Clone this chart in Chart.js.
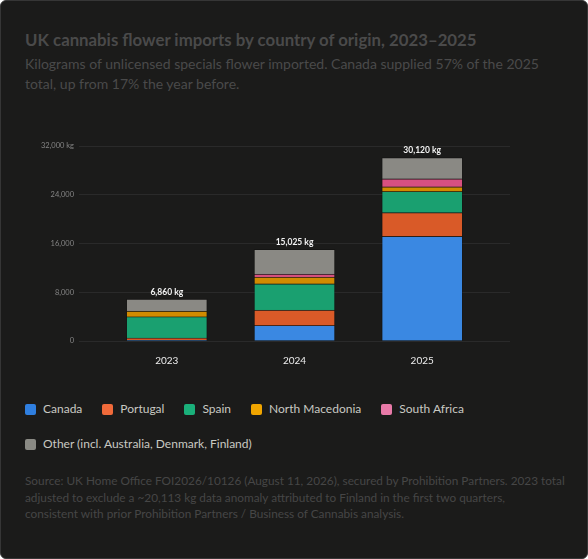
<!DOCTYPE html>
<html>
<head>
    <title>UK cannabis flower imports</title>
    <meta charset="utf-8">
    <script src="https://cdn.jsdelivr.net/npm/chart.js"></script>
    <style>
    html, body {
        margin: 0;
        padding: 0;
        background: #ffffff;
    }
    .card {
        position: relative;
        width: 586px;
        height: 557px;
        background: #1b1b1a;
        border: 1px solid #363636;
        border-radius: 6px;
        font-family: "Segoe UI", Lato, "Noto Sans", sans-serif;
        overflow: hidden;
    }
    .title {
        position: absolute;
        left: 24px;
        top: 28px;
        font-size: 16.8px;
        font-weight: bold;
        color: #4a4a4a;
        white-space: nowrap;
    }
    .subtitle {
        position: absolute;
        left: 24px;
        top: 53px;
        width: 530px;
        font-size: 14px;
        line-height: 20px;
        color: #4a4a4a;
    }
    .chart-box {
        position: absolute;
        left: 24px;
        top: 130px;
        width: 540px;
        height: 235px;
    }
    .legend {
        position: absolute;
        left: 24px;
        top: 399px;
        width: 540px;
        display: flex;
        flex-wrap: wrap;
        row-gap: 17px;
    }
    .legend-item {
        display: flex;
        align-items: center;
        margin-right: 20px;
        font-size: 12px;
        line-height: 18px;
        color: #c9c9c2;
    }
    .legend-box {
        width: 11px;
        height: 11px;
        border-radius: 2px;
        margin-right: 7px;
    }
    .source {
        position: absolute;
        left: 24px;
        top: 472px;
        width: 550px;
        font-size: 11.8px;
        line-height: 16.5px;
        color: #464646;
    }
    </style>
</head>
<body>
    <div class="card">
        <div class="title">UK cannabis flower imports by country of origin, 2023–2025</div>
        <div class="subtitle">Kilograms of unlicensed specials flower imported. Canada supplied 57% of the 2025 total, up from 17% the year before.</div>
        <div class="chart-box">
            <canvas id="importsChart"></canvas>
        </div>
        <div class="legend" id="legend"></div>
        <div class="source">Source: UK Home Office FOI2026/10126 (August 11, 2026), secured by Prohibition Partners. 2023 total adjusted to exclude a ~20,113 kg data anomaly attributed to Finland in the first two quarters,<br>consistent with prior Prohibition Partners / Business of Cannabis analysis.</div>
    </div>

<script>
    // data, kg per year
    const years = ['2023', '2024', '2025'];
    const countries = ['Canada', 'Portugal', 'Spain', 'North Macedonia', 'South Africa', 'Other (incl. Australia, Denmark, Finland)'];
    const canada = [160, 2555, 17170];
    const portugal = [340, 2510, 3900];
    const spain = [3500, 4320, 3480];
    const northMacedonia = [920, 1090, 760];
    const southAfrica = [0, 490, 1300];
    const other = [1940, 4060, 3510];
    const yTicks = [0, 8000, 16000, 24000, 32000];

    const seriesValues = [canada, portugal, spain, northMacedonia, southAfrica, other];
    const legendColors = ['#2f7fe0', '#f06a3a', '#1ab07a', '#f0a500', '#e87aa8', '#8a8a84'];
    const barColors = ['#3a88e2', '#d95a28', '#1aa070', '#d18b00', '#d75080', '#8a8984'];
    const fontFamily = '"Segoe UI", Lato, "Noto Sans", sans-serif';

    const datasets = countries.map((name, i) => ({
        label: name,
        data: seriesValues[i].map((v, j) => ({ x: j, y: v })),
        backgroundColor: barColors[i],
        borderColor: 'rgba(0, 0, 0, 0.22)',
        borderWidth: 1,
        barThickness: 81,
    }));

    // totals above each stack
    const totalsPlugin = {
        id: 'totals',
        afterDatasetsDraw(chart) {
            const ctx = chart.ctx;
            const xs = chart.scales.x;
            const ys = chart.scales.y;
            ctx.save();
            ctx.font = 'bold 8.5px ' + fontFamily;
            ctx.fillStyle = '#f2f2f2';
            ctx.textAlign = 'center';
            ctx.textBaseline = 'bottom';
            years.forEach((yr, j) => {
                const total = seriesValues.reduce((s, arr) => s + arr[j], 0);
                ctx.fillText(total.toLocaleString('en-US') + ' kg', xs.getPixelForValue(j), ys.getPixelForValue(total) - 3);
            });
            ctx.restore();
        }
    };

    new Chart(document.getElementById('importsChart'), {
        type: 'bar',
        data: { datasets: datasets },
        plugins: [totalsPlugin],
        options: {
            responsive: true,
            maintainAspectRatio: false,
            animation: false,
            layout: { padding: { top: 15, right: 55, left: 0, bottom: 0 } },
            plugins: {
                legend: { display: false },
                tooltip: { enabled: false },
            },
            scales: {
                x: {
                    type: 'linear',
                    stacked: true,
                    offset: false,
                    min: -0.6875,
                    max: 2.6875,
                    afterBuildTicks: (scale) => {
                        scale.ticks = years.map((y, i) => ({ value: i }));
                    },
                    afterFit: (scale) => { scale.height = 25; },
                    grid: { display: false },
                    border: { display: false },
                    ticks: {
                        padding: 6,
                        color: '#ececec',
                        font: { size: 10, family: fontFamily },
                        callback: (v) => years[v],
                    },
                },
                y: {
                    stacked: true,
                    min: 0,
                    max: 32000,
                    afterBuildTicks: (scale) => {
                        scale.ticks = yTicks.map((v) => ({ value: v }));
                    },
                    afterFit: (scale) => { scale.width = 54; },
                    grid: { color: '#2a2a2a', lineWidth: 1, drawTicks: false },
                    border: { display: false },
                    ticks: {
                        padding: 5,
                        color: '#858585',
                        font: { size: 7.5, family: fontFamily },
                        callback: (v) => v === 32000 ? '32,000 kg' : v.toLocaleString('en-US'),
                    },
                },
            },
        },
    });

    // html legend from the same lists
    const legend = document.getElementById('legend');
    countries.forEach((name, i) => {
        const item = document.createElement('div');
        item.className = 'legend-item';
        const box = document.createElement('span');
        box.className = 'legend-box';
        box.style.background = legendColors[i];
        const label = document.createElement('span');
        label.textContent = name;
        item.appendChild(box);
        item.appendChild(label);
        legend.appendChild(item);
    });
</script>
</body>
</html>
